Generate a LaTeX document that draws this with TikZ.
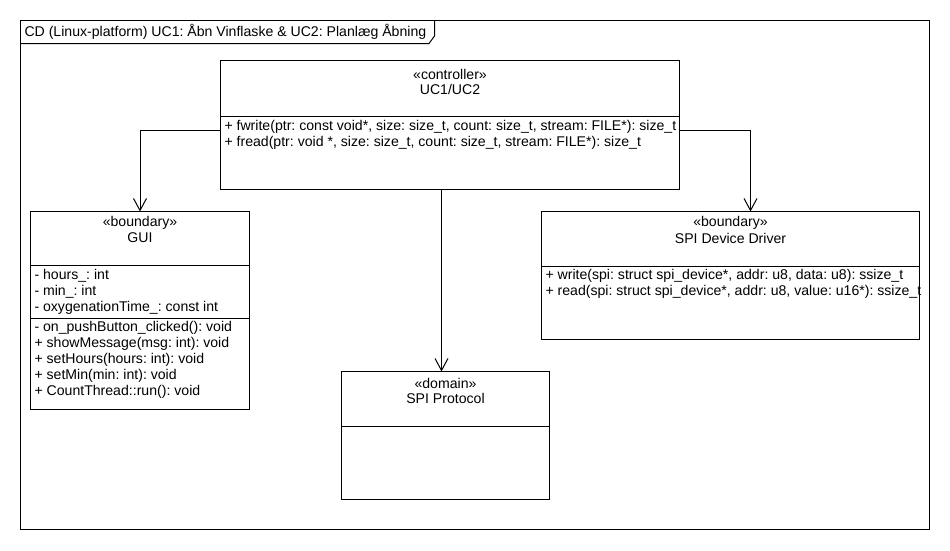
\documentclass[tikz,border=0pt]{standalone}
\usepackage{fontspec}
\setmainfont{Liberation Sans}
\usetikzlibrary{arrows.meta}
\frenchspacing
\begin{document}
\begin{tikzpicture}[x=1pt,y=-1pt, line width=1pt,
  box/.style={draw, anchor=north west, inner sep=0pt, outer sep=0pt},
  txt/.style={inner sep=0pt, font=\fontsize{14.1}{16}\selectfont},
  lft/.style={txt, anchor=west},
  dep/.style={-{Straight Barb[length=12pt,width=13pt]}}]
\useasboundingbox (0,0) rectangle (950,550);
\fill[white] (0,0) rectangle (950,550);
% frame
\draw (20.5,20.5) rectangle (929.5,529.5);
\draw (20.5,43.5) -- (429,43.5) -- (434.5,36) -- (434.5,20.5);
\node[lft] (title) at (24,32) {CD (Linux-platform) UC1: Åbn Vinflaske \& UC2: Planlæg Åbning};
% controller
\node[box, minimum width=459pt, minimum height=129pt] (ctrl) at (220.5,60.5) {};
\draw (ctrl.west |- 0,116.5) -- (ctrl.east |- 0,116.5);
\node[txt] (ctrlst) at (ctrl.north |- 0,74) {«controller»};
\node[txt] (ctrlnm) at (ctrl.north |- 0,89) {UC1/UC2};
\node[lft] (ctrlop1) at (224,127) {+ fwrite(ptr: const void*, size: size\_t, count: size\_t, stream: FILE*): size\_t};
\node[lft] (ctrlop2) at (224,143) {+ fread(ptr: void *, size: size\_t, count: size\_t, stream: FILE*): size\_t};
% GUI
\node[box, minimum width=219pt, minimum height=198pt] (gui) at (30.5,211.5) {};
\draw (gui.west |- 0,265.5) -- (gui.east |- 0,265.5);
\draw (gui.west |- 0,318.5) -- (gui.east |- 0,318.5);
\node[txt] (guist) at (gui.north |- 0,223) {«boundary»};
\node[txt] (guinm) at (gui.north |- 0,238) {GUI};
\node[lft] (guia1) at (34,276) {- hours\_: int};
\node[lft] (guia2) at (34,292) {- min\_: int};
\node[lft] (guia3) at (34,308) {- oxygenationTime\_: const int};
\node[lft] (guio1) at (34,328) {- on\_pushButton\_clicked(): void};
\node[lft] (guio2) at (34,344) {+ showMessage(msg: int): void};
\node[lft] (guio3) at (34,360) {+ setHours(hours: int): void};
\node[lft] (guio4) at (34,376) {+ setMin(min: int): void};
\node[lft] (guio5) at (34,392) {+ CountThread::run(): void};
% SPI Device Driver
\node[box, minimum width=378pt, minimum height=128pt] (sdd) at (541.5,211.5) {};
\draw (sdd.west |- 0,266.5) -- (sdd.east |- 0,266.5);
\node[txt] (sddst) at (sdd.north |- 0,223) {«boundary»};
\node[txt] (sddnm) at (sdd.north |- 0,238) {SPI Device Driver};
\node[lft] (sddo1) at (545,276) {+ write(spi: struct spi\_device*, addr: u8, data: u8): ssize\_t};
\node[lft] (sddo2) at (545,292) {+ read(spi: struct spi\_device*, addr: u8, value: u16*): ssize\_t};
% SPI Protocol
\node[box, minimum width=208pt, minimum height=128pt] (spi) at (341.5,371.5) {};
\draw (spi.west |- 0,426.5) -- (spi.east |- 0,426.5);
\node[txt] (spist) at (spi.north |- 0,383) {«domain»};
\node[txt] (spinm) at (spi.north |- 0,398) {SPI Protocol};
% connectors
\draw[dep] (ctrl.west |- 0,130.5) -| (gui.north);
\draw[dep] (ctrl.east |- 0,130.5) -| (sdd.north -| 750.5,0);
\draw[dep] (ctrl.south -| 441.5,0) -- (spi.north -| 441.5,0);
\end{tikzpicture}
\end{document}
